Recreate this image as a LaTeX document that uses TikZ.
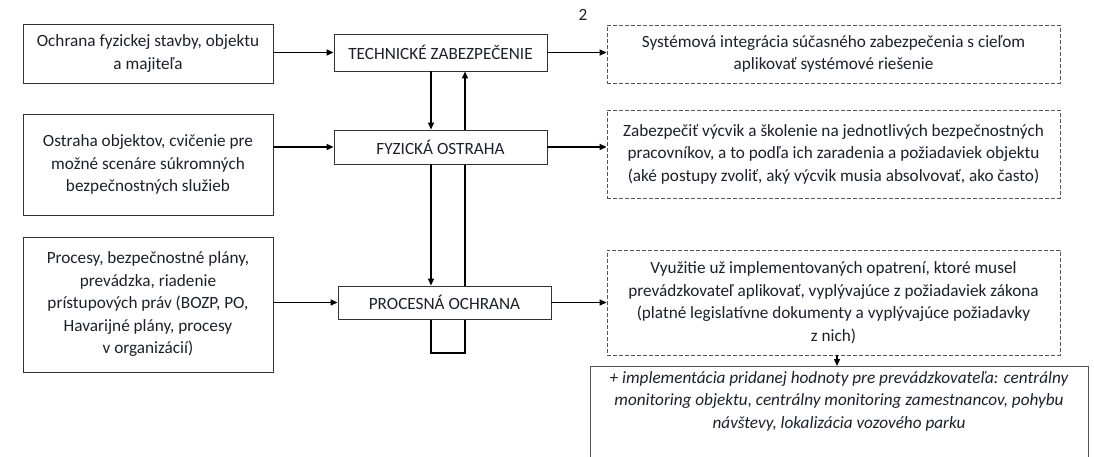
\documentclass[tikz,border=0pt]{standalone}
\usepackage{fontspec}
\setmainfont{Carlito}
\usetikzlibrary{arrows.meta}
\pgfdeclarelayer{bg}
\pgfsetlayers{bg,main}
\definecolor{txt}{RGB}{30,32,44}
\definecolor{frame}{RGB}{50,50,50}
\definecolor{dframe}{RGB}{85,85,85}
\tikzset{
  base/.style={draw=frame, line width=0.9pt, fill=white, text=txt, align=center, inner sep=0pt,
    font=\fontsize{17.2}{22.5}\selectfont},
  solidbox/.style={base},
  dashbox/.style={base, draw=dframe, dash pattern=on 4pt off 2pt},
  conn/.style={line width=1.4pt, black},
  arr/.style={conn, -{Triangle[length=7pt,width=6pt]}},
}
\begin{document}
\begin{tikzpicture}[x=1pt,y=-1pt]
\clip (0,0) rectangle (1094,457);
\begin{pgfonlayer}{bg}
\fill[white] (0,0) rectangle (1094,457);
\end{pgfonlayer}
% left boxes
\node[solidbox, minimum width=250pt, minimum height=59pt] (b1) at (148,53.5)
  {Ochrana fyzickej stavby, objektu\\a majiteľa};
\node[solidbox, minimum width=250pt, minimum height=101pt] (b2) at (148,164.5)
  {Ostraha objektov, cvičenie pre\\možné scenáre súkromných\\bezpečnostných služieb};
\node[solidbox, minimum width=250pt, minimum height=135pt] (b3) at (148,304.5)
  {Procesy, bezpečnostné plány,\\prevádzka, riadenie\\prístupových práv (BOZP, PO,\\Havarijné plány, procesy\\v~organizácií)};
% center boxes
\node[solidbox, minimum width=213pt, minimum height=37pt] (tech) at (440.5,52.5) {TECHNICKÉ ZABEZPEČENIE};
\node[solidbox, minimum width=213pt, minimum height=34pt] (fyz) at (440.5,147) {FYZICKÁ OSTRAHA};
\node[solidbox, minimum width=213pt, minimum height=33pt] (proc) at (444.5,302.5) {PROCESNÁ OCHRANA};
% right boxes
\node[dashbox, minimum width=453pt, minimum height=58pt] (ra) at (833.5,54)
  {Systémová integrácia súčasného zabezpečenia s~cieľom\\aplikovať systémové riešenie};
\node[dashbox, minimum width=453pt, minimum height=88pt] (rb) at (833.5,154)
  {Zabezpečiť výcvik a školenie na jednotlivých bezpečnostných\\pracovníkov, a to podľa ich zaradenia a požiadaviek objektu\\(aké postupy zvoliť, aký výcvik musia absolvovať, ako často)};
\node[dashbox, minimum width=453pt, minimum height=105pt] (rc) at (833.5,302.5)
  {Využitie už implementovaných opatrení, ktoré musel\\prevádzkovateľ aplikovať, vyplývajúce z~požiadaviek zákona\\(platné legislatívne dokumenty a vyplývajúce požiadavky\\z~nich)};
\node[base, draw=dframe, anchor=north, minimum width=498pt, minimum height=110pt] (rd) at (839,366) {};
\node[text=txt, align=center, anchor=north, inner sep=0pt, font=\fontsize{17.2}{22.5}\selectfont\itshape] (rdt) at (839,371)
  {+ implementácia pridanej hodnoty pre prevádzkovateľa: centrálny\\monitoring objektu, centrálny monitoring zamestnancov, pohybu\\návštevy, lokalizácia vozového parku};
% page number
\node[text=txt, font=\fontsize{17.2}{20}\selectfont, inner sep=0pt] (pg) at (583,15) {2};
% connectors
\coordinate (l1) at (431,0);
\coordinate (r1) at (465,0);
\coordinate (lb) at (431,353);
\coordinate (rbt) at (465,353);
\draw[arr] (b1.east |- tech.west) -- (tech.west);
\draw[arr] (b2.east |- fyz.west) -- (fyz.west);
\draw[arr] (b3.east |- proc.west) -- (proc.west);
\draw[arr] (tech.east) -- (tech.east -| ra.west);
\draw[arr] (fyz.east) -- (fyz.east -| rb.west);
\draw[arr] (proc.east) -- (proc.east -| rc.west);
\draw[arr] (tech.south -| l1) -- (fyz.north -| l1);
\draw[arr] (fyz.south -| l1) -- (proc.north -| l1);
\begin{pgfonlayer}{bg}
\draw[arr] (proc.south -| l1) -- (lb) -- (rbt) -- (tech.south -| r1);
\end{pgfonlayer}
\draw[arr] (rc.south -| 837,0) -- (rd.north -| 837,0);
\end{tikzpicture}
\end{document}
